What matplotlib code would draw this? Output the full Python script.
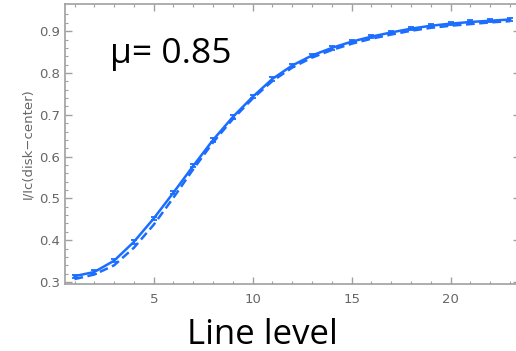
import matplotlib
matplotlib.use('Agg')
import matplotlib.pyplot as plt
import numpy as np

# line level vs normalised intensity at mu = 0.85
levels = list(range(1, 24))
solid_vals = [0.314, 0.324, 0.351, 0.396, 0.452, 0.514, 0.578, 0.640, 0.695, 0.743,
              0.786, 0.818, 0.842, 0.860, 0.875, 0.887, 0.897, 0.906, 0.913, 0.918,
              0.922, 0.925, 0.928]
solid_err = [0.004] * 23
dashed_vals = [0.307, 0.318, 0.340, 0.382, 0.437, 0.502, 0.570, 0.634, 0.690, 0.739,
               0.781, 0.813, 0.837, 0.855, 0.870, 0.882, 0.892, 0.901, 0.908, 0.913,
               0.917, 0.921, 0.924]

blue = '#1a6dff'
gray = '#666666'

fig = plt.figure(figsize=(5.16, 3.51), dpi=100)
ax = fig.add_axes([64.6 / 516, 1 - 283.7 / 351, (520 - 64.6) / 516, (283.7 - 4) / 351])

ax.plot(levels, dashed_vals, color=blue, lw=1.8, ls=(0, (3.5, 1.8)))
ax.errorbar(levels, solid_vals, yerr=solid_err, color=blue, lw=1.8,
            capsize=2.2, capthick=1.3, elinewidth=1.3)

ax.set_xlim(0.5, 23.5)
ax.set_ylim(0.296, 0.965)
ax.set_xticks([5, 10, 15, 20])
ax.set_xticks(levels, minor=True)
ax.set_yticks(np.arange(0.3, 0.95, 0.1))
ax.set_yticks(np.arange(0.3, 0.96, 0.02), minor=True)
ax.set_yticklabels(['0.3', '0.4', '0.5', '0.6', '0.7', '0.8', '0.9'])

for s in ax.spines.values():
    s.set_color('#a0a0a0')
    s.set_linewidth(1.2)
ax.tick_params(which='both', direction='in', top=True, right=True,
               colors='#a0a0a0', labelcolor=gray, labelsize=9.5)
ax.tick_params(which='major', length=5, width=1)
ax.tick_params(which='minor', length=2.5, width=0.8)
ax.tick_params(axis='x', pad=7)

ax.set_ylabel('I/Ic(disk\u2212center)', color=gray, fontsize=9.5, labelpad=3)

fig.text(110 / 516, 1 - 63.3 / 351, '\u03bc= 0.85', fontsize=25.5, family='Open Sans',
         ha='left', va='baseline')
fig.text(262 / 516, 1 - 344 / 351, 'Line level', fontsize=25, family='Open Sans',
         ha='center', va='baseline')

fig.savefig('out.png', dpi=100)
